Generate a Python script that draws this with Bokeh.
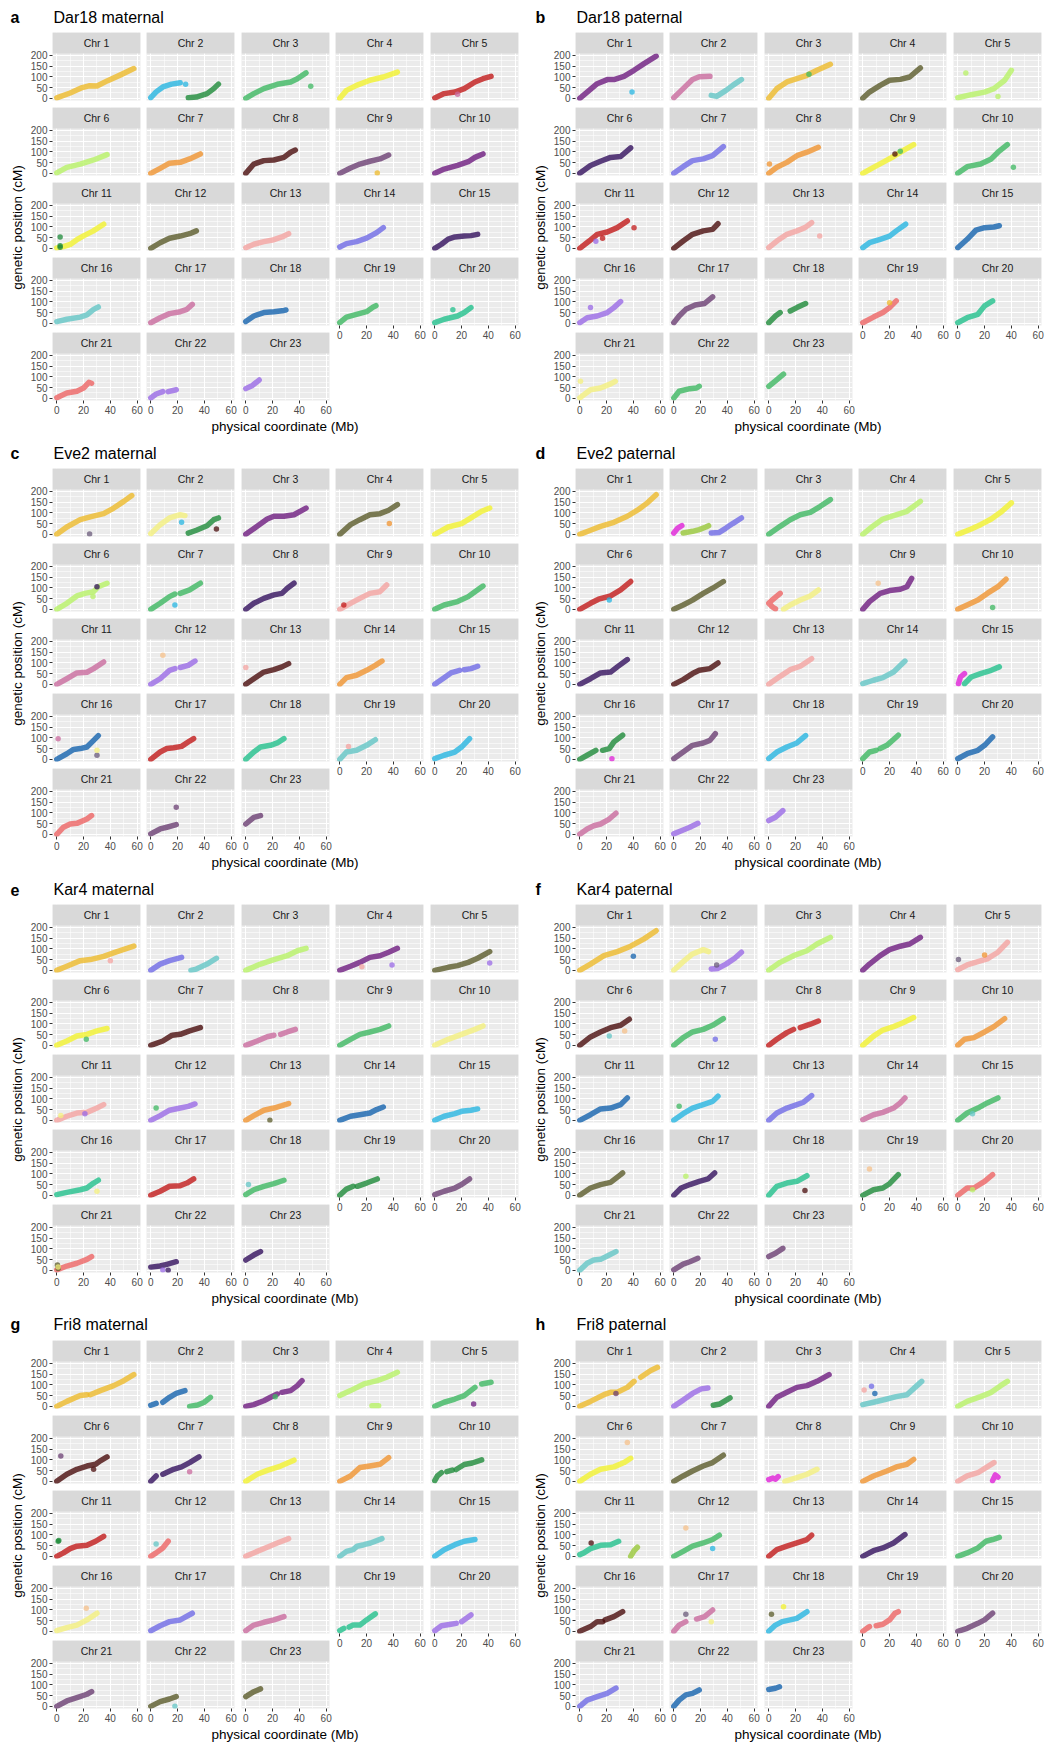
import math
from bokeh.plotting import figure
from bokeh.layouts import row, column
from bokeh.models import Range1d, Grid, FixedTicker, LinearAxis, BoxAnnotation, Label
from bokeh.embed import file_html
from bokeh.resources import INLINE

# ---------------- colours ----------------
COLORS = {
    "gold": "#EDBA2A", "cyan": "#27B5E1", "green": "#3DB861", "dkgreen": "#1E8B3A",
    "yellow": "#F2F22E", "red": "#C21A1A", "ltgreen": "#B8F266", "orange": "#F0932F",
    "maroon": "#4A0C0C", "plum": "#6B3F73", "purple": "#6E1C80", "indigo": "#33105E",
    "olive": "#5B5B2A", "salmon": "#F4A3A0", "slate": "#6F6AE6", "teal": "#63C6C6",
    "mauve": "#C96A9E", "blue": "#1463AE", "seagreen": "#22C08C", "coral": "#EE6464",
    "lavender": "#9A6AE6", "paleyel": "#F4F07E", "magenta": "#E020D8", "ygreen": "#98C83A",
    "grey": "#6A5A7A", "peach": "#F5C08A",
}

# ---------------- data: (chromosome, colour, physical Mb, genetic cM) ----------------
A_SEG = [
    (1, "gold", [0, 10, 19, 24, 30, 38, 48, 57.5], [2, 25, 50, 58, 57, 82, 110, 138]),
    (2, "cyan", [0, 4, 9, 15.5, 22], [3, 30, 53, 66, 72]),
    (2, "dkgreen", [28, 34, 42, 47, 50.5], [3, 6, 22, 45, 66]),
    (3, "green", [0, 6, 13.5, 23.5, 33.5, 38.5, 45], [0, 22, 45, 65, 76, 91, 118]),
    (4, "yellow", [0, 5, 12.5, 22.5, 32.5, 43], [0, 37, 60, 84, 99, 122]),
    (5, "red", [0, 7, 15, 22, 30, 36, 42], [2, 22, 29, 45, 76, 91, 102]),
    (6, "ltgreen", [0, 7.5, 17.5, 27.5, 37.5], [2, 28, 43, 62, 87]),
    (7, "orange", [0, 7, 14, 22, 29, 37], [0, 23, 47, 51, 67, 90]),
    (8, "maroon", [0, 6, 13.5, 21, 28.5, 33.5, 37], [0, 43, 59, 62, 74, 98, 108]),
    (9, "plum", [0, 8, 15, 22.5, 30, 36.5], [0, 25, 43, 56, 67, 85]),
    (10, "purple", [0, 7, 17, 25, 30, 36], [0, 20, 37, 54, 74, 90]),
    (11, "yellow", [0, 5, 10, 15, 20, 27, 35], [2, 8, 18, 40, 58, 80, 112]),
    (12, "olive", [0, 7, 14, 22, 29, 34], [0, 26, 47, 57, 68, 81]),
    (13, "salmon", [0, 6, 13.5, 21, 27, 32], [3, 19, 31, 40, 53, 68]),
    (14, "slate", [0, 5, 12.5, 20, 27.5, 32.5], [6, 22, 31, 47, 73, 96]),
    (15, "indigo", [0, 5, 10, 15, 22, 27, 32], [0, 19, 43, 53, 57, 59, 65]),
    (16, "teal", [0, 7.5, 17.5, 22.5, 27.5, 31], [8, 19, 29, 39, 65, 76]),
    (17, "mauve", [0, 7, 14, 22, 27, 31], [3, 26, 45, 54, 65, 88]),
    (18, "blue", [0, 6, 13.5, 21, 28.5, 30], [8, 34, 50, 54, 60, 62]),
    (19, "green", [0, 5, 12.5, 20, 25, 27], [3, 29, 42, 54, 76, 82]),
    (20, "seagreen", [0, 7, 17, 22, 27], [3, 19, 34, 50, 73]),
    (21, "coral", [0, 7.5, 15, 20, 24, 26], [3, 25, 33, 48, 74, 70]),
    (22, "lavender", [0, 4, 9], [2, 20, 31]),
    (22, "lavender", [13, 19], [31, 40]),
    (23, "lavender", [0, 5, 10], [45, 60, 85]),
]
A_OUT = [(2, "cyan", 26, 65), (3, "green", 48.5, 56), (5, "mauve", 17, 19), (9, "gold", 28, 2),
         (11, "dkgreen", 2.5, 53), (11, "dkgreen", 2.5, 5), (11, "dkgreen", 2.5, 12),
         (20, "seagreen", 13.5, 63)]

B_SEG = [
    (1, "purple", [0, 5.5, 13, 20.5, 25.5, 33, 40.5, 48, 57], [0, 29, 68, 87, 87, 102, 130, 161, 196]),
    (2, "mauve", [0, 7, 14, 19, 27], [3, 45, 87, 100, 102]),
    (2, "teal", [28, 32, 39, 44, 50.5], [14, 9, 37, 60, 87]),
    (3, "gold", [0, 6, 13.5, 21, 28.5, 36, 46], [0, 45, 76, 91, 107, 130, 158]),
    (4, "olive", [0, 5, 13, 20, 28, 35, 43], [0, 29, 60, 84, 88, 99, 141]),
    (5, "ltgreen", [0, 10, 20, 27, 35, 40], [3, 17, 29, 45, 84, 130]),
    (6, "indigo", [0, 8, 15.5, 23, 30.5, 38], [0, 36, 56, 74, 78, 118]),
    (7, "slate", [0, 7, 14, 22, 29, 37], [0, 31, 59, 67, 82, 124]),
    (8, "orange", [0, 6, 13.5, 21, 28.5, 37], [0, 28, 51, 82, 98, 121]),
    (9, "yellow", [0, 8, 15, 23, 30, 38], [0, 28, 51, 78, 105, 133]),
    (10, "green", [0, 7, 17, 25, 30, 37], [0, 31, 43, 67, 98, 133]),
    (11, "red", [0, 7, 13, 20.5, 28, 35.5], [0, 34, 65, 76, 96, 127]),
    (12, "maroon", [0, 7, 14, 22, 29, 33], [0, 34, 65, 81, 88, 114]),
    (13, "salmon", [0, 6, 13.5, 21, 27, 32], [3, 34, 65, 81, 96, 119]),
    (14, "cyan", [0, 5, 13, 20, 25, 32], [3, 26, 42, 57, 81, 112]),
    (15, "blue", [0, 7, 13.5, 20, 27, 31], [3, 42, 84, 96, 99, 105]),
    (16, "lavender", [0, 5.5, 13, 20.5, 25.5, 30.5], [3, 26, 34, 50, 73, 101]),
    (17, "plum", [0, 4, 9, 16, 23, 29], [3, 34, 65, 85, 92, 123]),
    (18, "dkgreen", [0, 5, 8.5], [3, 34, 50]),
    (18, "dkgreen", [16, 21, 27.5], [57, 73, 92]),
    (19, "coral", [0, 8, 15, 20, 25], [3, 29, 50, 73, 104]),
    (20, "seagreen", [0, 7, 15, 20, 26], [3, 26, 42, 81, 104]),
    (21, "paleyel", [0, 8, 15.5, 23, 26.5], [2, 40, 48, 67, 79]),
    (22, "green", [0, 4, 12, 17, 19], [2, 33, 45, 48, 56]),
    (23, "green", [0, 5, 11], [56, 81, 112]),
]
B_OUT = [(1, "cyan", 39, 29), (3, "green", 30, 112), (5, "ltgreen", 6, 118), (5, "ltgreen", 30, 9),
         (8, "orange", 0.5, 43), (9, "maroon", 24, 90), (9, "green", 28, 102), (10, "green", 41.5, 28),
         (11, "red", 40.5, 96), (11, "lavender", 12, 33), (11, "red", 17, 47), (13, "salmon", 38, 57),
         (16, "lavender", 8, 73), (19, "gold", 20, 96), (21, "paleyel", 0.5, 79)]

C_SEG = [
    (1, "gold", [0, 7.5, 17.5, 25, 35, 42.5, 50, 56], [0, 34, 68, 81, 96, 122, 153, 180]),
    (2, "paleyel", [0, 7, 14, 22, 25.5], [3, 45, 76, 91, 87]),
    (2, "dkgreen", [28, 34, 42, 47, 50.5], [6, 19, 40, 68, 76]),
    (3, "purple", [0, 8.5, 16, 21, 28.5, 36, 45], [0, 37, 71, 84, 84, 91, 122]),
    (4, "olive", [0, 8, 15, 22.5, 30, 36.5, 43], [0, 45, 68, 91, 96, 112, 138]),
    (5, "yellow", [0, 10, 20, 27, 35, 41], [0, 34, 50, 76, 107, 122]),
    (6, "ltgreen", [0, 7.5, 15, 21, 27.5, 31, 37.5], [0, 28, 62, 74, 82, 105, 121]),
    (7, "green", [0, 7, 14, 18], [0, 28, 59, 71]),
    (7, "green", [22, 29, 37], [74, 90, 121]),
    (8, "indigo", [0, 6, 13.5, 21, 27, 31, 36], [0, 28, 51, 67, 74, 98, 121]),
    (9, "salmon", [0, 8, 15, 22.5, 30, 35], [0, 28, 51, 74, 82, 113]),
    (10, "green", [0, 7, 17, 25, 30, 36], [0, 20, 36, 59, 82, 108]),
    (11, "mauve", [0, 7.5, 15, 22.5, 27.5, 35], [0, 26, 53, 56, 73, 104]),
    (12, "lavender", [0, 7, 14, 18], [0, 26, 65, 73]),
    (12, "lavender", [22, 28, 33], [78, 88, 108]),
    (13, "maroon", [0, 6, 13.5, 21, 27, 32], [0, 26, 57, 68, 81, 96]),
    (14, "orange", [0, 5, 12.5, 20, 26.5, 31.5], [0, 31, 42, 65, 88, 108]),
    (15, "slate", [0, 7, 12, 18.5], [0, 31, 53, 65]),
    (15, "slate", [22, 27, 32], [68, 73, 84]),
    (16, "blue", [0, 7.5, 12.5, 17.5, 22.5, 27.5, 31], [0, 26, 46, 50, 57, 88, 110]),
    (17, "red", [0, 7, 12, 17, 23, 29, 32], [0, 34, 50, 54, 60, 85, 96]),
    (18, "seagreen", [0, 6, 11, 18.5, 23.5, 28.5], [0, 34, 57, 65, 76, 96]),
    (19, "teal", [0, 5, 12.5, 20, 26.5], [0, 34, 42, 65, 91]),
    (20, "cyan", [0, 7, 15, 20, 26], [3, 19, 34, 57, 96]),
    (21, "coral", [0, 5, 10, 15, 22.5, 26], [0, 33, 48, 51, 71, 87]),
    (22, "plum", [0, 7, 12, 19], [2, 25, 33, 45]),
    (23, "plum", [0, 6, 11], [48, 79, 87]),
]
C_OUT = [(1, "grey", 24.5, 2), (2, "cyan", 23, 56), (2, "maroon", 49, 25), (4, "orange", 37, 50),
         (6, "indigo", 30, 105), (6, "ltgreen", 27, 59), (7, "cyan", 18, 20), (9, "red", 3, 20),
         (12, "peach", 9, 135), (13, "salmon", 0, 78), (16, "mauve", 1, 96), (16, "grey", 30, 19),
         (16, "paleyel", 30, 42), (19, "salmon", 6.5, 60), (22, "plum", 19, 126)]

D_SEG = [
    (1, "gold", [0, 8, 15.5, 25.5, 35.5, 43, 50.5, 57], [0, 19, 37, 56, 84, 112, 146, 184]),
    (2, "magenta", [0, 3, 6], [6, 29, 40]),
    (2, "ygreen", [7, 14, 19, 24, 26], [6, 14, 22, 34, 40]),
    (2, "slate", [28, 34, 39, 44, 50.5], [6, 9, 29, 50, 76]),
    (3, "green", [0, 8.5, 16, 23.5, 31, 38.5, 46], [0, 37, 68, 91, 102, 130, 161]),
    (4, "ltgreen", [0, 8, 15, 23, 33, 43], [0, 40, 71, 87, 107, 153]),
    (5, "yellow", [0, 10, 17, 25, 32, 40], [0, 25, 45, 71, 102, 146]),
    (6, "red", [0, 8, 14, 23, 30.5, 38], [0, 28, 47, 62, 90, 129]),
    (7, "olive", [0, 7, 14, 22, 29, 37], [0, 20, 43, 74, 98, 129]),
    (8, "coral", [8.5, 2, 0, 3, 5], [74, 40, 28, 10, 2]),
    (8, "paleyel", [11, 16, 23.5, 31, 37], [0, 20, 43, 62, 90]),
    (9, "purple", [0, 5, 13, 20, 28, 33, 36.5], [0, 36, 74, 87, 93, 105, 144]),
    (10, "orange", [0, 7, 15, 22, 30, 36], [0, 20, 43, 74, 105, 140]),
    (11, "indigo", [0, 8, 15.5, 23, 28, 35.5], [0, 26, 53, 57, 81, 115]),
    (12, "maroon", [0, 7, 14, 19, 27, 33], [0, 22, 50, 65, 73, 99]),
    (13, "salmon", [0, 8.5, 16, 23.5, 32], [0, 37, 68, 84, 119]),
    (14, "teal", [0, 8, 15, 23, 31.5], [3, 19, 31, 57, 108]),
    (15, "magenta", [0.5, 2, 5], [3, 34, 50]),
    (15, "seagreen", [5, 10, 17, 25, 31], [3, 34, 50, 65, 81]),
    (16, "dkgreen", [0, 5.5, 12], [0, 19, 42]),
    (16, "dkgreen", [17, 22, 25.5, 32], [42, 50, 81, 112]),
    (17, "plum", [0, 7, 14, 22, 27, 31], [3, 34, 65, 76, 88, 119]),
    (18, "cyan", [0, 6, 13.5, 21, 27.5], [3, 34, 57, 76, 110]),
    (19, "green", [0, 5, 10], [3, 34, 42]),
    (19, "green", [13, 18, 26.5], [50, 65, 112]),
    (20, "blue", [0, 7, 15, 20, 26], [3, 26, 42, 65, 104]),
    (21, "mauve", [0, 5.5, 10.5, 15.5, 22, 27], [0, 25, 40, 48, 71, 98]),
    (22, "lavender", [0, 7, 12, 18], [2, 20, 33, 51]),
    (23, "lavender", [0, 5, 10.5], [64, 79, 110]),
]
D_OUT = [(6, "cyan", 22, 43), (9, "peach", 11.5, 121), (10, "green", 26, 9), (16, "magenta", 24, 3)]

E_SEG = [
    (1, "gold", [0, 7.5, 17.5, 25, 35, 45, 57.5], [0, 19, 45, 50, 65, 87, 112]),
    (2, "slate", [0, 7, 14, 23], [0, 29, 45, 60]),
    (2, "teal", [30, 34, 42, 49], [0, 6, 29, 56]),
    (3, "ltgreen", [0, 11, 21, 31, 38.5, 45], [0, 29, 50, 68, 91, 102]),
    (4, "purple", [0, 8, 15, 22.5, 30, 36.5, 43], [0, 19, 37, 60, 68, 84, 102]),
    (5, "olive", [0, 10, 17, 25, 32, 41], [0, 14, 22, 37, 56, 87]),
    (6, "yellow", [0, 7.5, 15, 22.5, 30, 37.5], [0, 20, 43, 51, 67, 78]),
    (7, "maroon", [0, 9, 16, 22, 29, 37], [0, 20, 47, 51, 67, 82]),
    (8, "mauve", [0, 8.5, 16, 21], [0, 20, 40, 47]),
    (8, "mauve", [26, 31, 37], [51, 62, 74]),
    (9, "green", [0, 8, 15, 22.5, 30, 36.5], [0, 28, 51, 62, 74, 90]),
    (10, "paleyel", [0, 10, 20, 30, 36], [0, 28, 51, 74, 90]),
    (11, "salmon", [0, 7.5, 15, 22.5, 30, 35], [0, 19, 34, 37, 57, 73]),
    (12, "lavender", [0, 7, 14, 22, 28, 33], [0, 22, 47, 57, 65, 76]),
    (13, "orange", [0, 6, 13.5, 21, 27, 32], [0, 22, 47, 57, 68, 78]),
    (14, "blue", [0, 8, 15, 22.5, 27.5, 32.5], [0, 19, 26, 34, 50, 62]),
    (15, "cyan", [0, 7, 15, 20, 27, 32], [0, 19, 31, 42, 47, 53]),
    (16, "seagreen", [0, 7.5, 17.5, 22.5, 27.5, 31], [3, 14, 26, 34, 57, 70]),
    (17, "red", [0, 7, 14, 22, 27, 32], [0, 19, 42, 45, 57, 76]),
    (18, "green", [0, 6, 13.5, 21, 28.5], [3, 26, 42, 54, 70]),
    (19, "dkgreen", [0, 5, 10], [0, 29, 42]),
    (19, "dkgreen", [13, 20, 28], [42, 57, 76]),
    (20, "plum", [0, 7, 15, 20, 26], [3, 19, 34, 50, 76]),
    (21, "coral", [0, 7.5, 15, 22.5, 26], [2, 20, 33, 51, 64]),
    (22, "indigo", [0, 7, 12, 19], [15, 20, 28, 40]),
    (23, "indigo", [0, 6, 11], [48, 71, 87]),
]
E_OUT = [(1, "salmon", 40, 45), (4, "salmon", 16.5, 17), (4, "lavender", 39, 25), (5, "lavender", 41, 34),
         (6, "green", 22, 28), (11, "lavender", 21, 31), (11, "paleyel", 3, 22), (12, "green", 4, 57),
         (13, "olive", 18, 0), (16, "paleyel", 30, 19), (18, "teal", 2, 50), (21, "olive", 0.5, 25),
         (21, "olive", 1, 9), (21, "paleyel", 1, 15), (22, "lavender", 9, 2), (22, "indigo", 13, 0)]

F_SEG = [
    (1, "gold", [0, 8, 18, 28, 38, 48, 57], [0, 29, 68, 87, 112, 146, 184]),
    (2, "paleyel", [0, 7, 14, 22, 26], [0, 40, 76, 96, 87]),
    (2, "lavender", [28, 33, 39, 45.5, 50.5], [6, 9, 29, 56, 84]),
    (3, "ltgreen", [0, 8.5, 18.5, 28.5, 36, 46], [0, 37, 68, 91, 122, 153]),
    (4, "purple", [0, 5, 13, 20, 28, 35, 43], [0, 29, 68, 96, 112, 122, 153]),
    (5, "salmon", [0, 7, 15, 22, 30, 37], [3, 25, 40, 53, 84, 130]),
    (6, "maroon", [0, 8, 15.5, 23, 30.5, 37], [0, 39, 62, 82, 93, 121]),
    (7, "green", [0, 7, 14, 22, 29, 37], [0, 36, 62, 74, 93, 124]),
    (8, "red", [0, 6, 13.5, 18.5], [0, 28, 59, 74]),
    (8, "red", [23.5, 31, 37], [82, 98, 113]),
    (9, "yellow", [0, 8, 15, 23, 30, 38], [0, 43, 71, 87, 105, 129]),
    (10, "orange", [0, 5, 12, 20, 27, 35], [0, 28, 36, 62, 87, 124]),
    (11, "blue", [0, 8, 15.5, 23, 30.5, 35.5], [0, 26, 53, 57, 73, 104]),
    (12, "cyan", [0, 7, 14, 22, 29, 33], [0, 31, 57, 73, 88, 112]),
    (13, "slate", [0, 6, 13.5, 21, 26, 32], [0, 34, 57, 73, 84, 115]),
    (14, "mauve", [0, 8, 15, 23, 28, 31.5], [3, 26, 37, 57, 81, 104]),
    (15, "green", [0, 7, 15, 22, 30], [0, 34, 57, 81, 104]),
    (16, "olive", [0, 8, 15.5, 23, 30.5, 32], [0, 34, 50, 60, 96, 104]),
    (17, "indigo", [0, 5.5, 12, 19, 25.5, 30.5], [0, 34, 50, 65, 76, 104]),
    (18, "seagreen", [0, 6, 13.5, 21, 28.5], [0, 42, 57, 65, 91]),
    (19, "dkgreen", [0, 8, 15, 20, 26.5], [0, 26, 34, 54, 96]),
    (20, "coral", [0, 7, 12, 20, 26], [0, 34, 34, 65, 96]),
    (21, "teal", [0, 5.5, 10.5, 15.5, 22, 27], [0, 33, 48, 51, 71, 87]),
    (22, "plum", [0, 7, 12, 18], [2, 29, 40, 56]),
    (23, "plum", [0, 5, 10.5], [64, 79, 102]),
]
F_OUT = [(1, "blue", 40, 65), (2, "grey", 32, 25), (5, "grey", 0.5, 50), (5, "orange", 20, 71),
         (6, "teal", 22, 43), (6, "peach", 33.5, 67), (7, "slate", 31, 28), (12, "green", 4, 65),
         (15, "teal", 11, 31), (17, "ltgreen", 9, 88), (18, "maroon", 27, 23), (19, "peach", 5, 122),
         (20, "ltgreen", 11, 26)]

G_SEG = [
    (1, "gold", [0, 7.5, 17.5, 22.5], [0, 23, 50, 54]),
    (1, "gold", [25, 32.5, 42.5, 50, 57.5], [54, 73, 96, 119, 147]),
    (2, "blue", [0, 4], [5, 14]),
    (2, "blue", [9, 14, 19, 25.5], [19, 42, 60, 73]),
    (2, "green", [29, 35, 40, 44.5], [0, 6, 19, 42]),
    (3, "purple", [0, 6, 13.5, 18.5, 23.5], [0, 8, 26, 42, 57]),
    (3, "purple", [27, 33.5, 38.5, 42], [65, 73, 96, 119]),
    (4, "ltgreen", [0, 8, 18, 28, 35, 43], [50, 73, 104, 119, 135, 158]),
    (4, "ltgreen", [24, 29], [3, 3]),
    (5, "green", [0, 7, 15, 22, 30], [0, 19, 34, 50, 88]),
    (5, "green", [35, 42], [104, 112]),
    (6, "maroon", [0, 7.5, 15, 22.5, 29, 32.5, 37.5], [0, 33, 56, 71, 79, 95, 113]),
    (7, "indigo", [0, 4], [0, 25]),
    (7, "indigo", [9, 17, 23, 29, 36], [33, 56, 67, 87, 113]),
    (8, "yellow", [0, 8.5, 16, 26, 36], [0, 33, 51, 71, 98]),
    (9, "orange", [0, 8, 15, 22.5, 30, 36.5], [0, 25, 64, 71, 79, 110]),
    (10, "dkgreen", [0, 2, 5], [3, 25, 40]),
    (10, "dkgreen", [9, 13], [45, 52]),
    (10, "dkgreen", [16, 22, 28, 35], [55, 78, 85, 100]),
    (11, "red", [0, 5, 10, 15, 22.5, 29, 35], [0, 16, 36, 47, 51, 70, 93]),
    (12, "coral", [0, 4, 9, 13], [0, 16, 39, 70]),
    (13, "salmon", [0, 8.5, 16, 23.5, 32], [0, 23, 42, 62, 82]),
    (14, "teal", [0, 5, 10, 13, 18, 23, 31.5], [0, 23, 31, 47, 54, 62, 82]),
    (15, "cyan", [0, 7, 15, 22, 30], [0, 31, 54, 70, 78]),
    (16, "paleyel", [0, 7.5, 15, 22.5, 30], [3, 17, 29, 53, 84]),
    (17, "slate", [0, 7, 14, 22, 31], [3, 26, 45, 53, 84]),
    (18, "mauve", [0, 6, 13.5, 21, 28.5], [3, 29, 42, 53, 68]),
    (19, "seagreen", [0, 3], [3, 14]),
    (19, "seagreen", [7, 10, 15, 20, 26.5], [20, 29, 29, 53, 81]),
    (20, "lavender", [0, 5, 12, 16], [3, 26, 33, 37]),
    (20, "lavender", [20, 27], [45, 76]),
    (21, "plum", [0, 7.5, 15, 22.5, 26], [0, 25, 40, 56, 68]),
    (22, "olive", [0, 7, 14, 19], [0, 22, 34, 45]),
    (23, "olive", [0, 6, 11], [45, 68, 81]),
]
G_OUT = [(3, "green", 22, 45), (5, "purple", 29, 11), (6, "plum", 3, 118), (6, "maroon", 27.5, 56),
         (7, "mauve", 29, 45), (11, "dkgreen", 1, 70), (11, "dkgreen", 1.5, 74), (12, "teal", 4, 57),
         (16, "peach", 22, 107), (22, "teal", 18, 0)]

H_SEG = [
    (1, "gold", [0, 8, 18, 23, 28, 35.5, 40.5], [0, 23, 54, 65, 65, 88, 116]),
    (1, "gold", [45.5, 53, 58], [135, 166, 181]),
    (2, "lavender", [0, 7, 14, 20.5, 25.5], [0, 29, 60, 81, 85]),
    (2, "dkgreen", [29.5, 34.5, 42], [5, 11, 39]),
    (3, "purple", [0, 6, 13.5, 21, 28.5, 36, 45], [0, 42, 65, 88, 96, 116, 147]),
    (4, "teal", [0, 8, 18, 25, 33, 39, 44], [8, 19, 34, 45, 54, 88, 116]),
    (5, "ltgreen", [0, 7, 17, 25, 32, 37], [0, 23, 45, 65, 96, 116]),
    (6, "yellow", [0, 8, 15.5, 25.5, 33, 38], [0, 33, 56, 67, 87, 107]),
    (7, "olive", [0, 7, 14, 22, 29, 37], [0, 25, 48, 71, 87, 121]),
    (8, "magenta", [0, 3, 5, 7], [8, 15, 10, 22]),
    (8, "paleyel", [12, 21, 28.5, 36], [0, 17, 33, 56]),
    (9, "orange", [0, 8, 18, 25, 33, 38], [0, 25, 48, 67, 79, 102]),
    (10, "salmon", [0, 7, 15, 22, 27], [0, 25, 40, 67, 87]),
    (10, "magenta", [26, 28, 30], [3, 30, 20]),
    (11, "seagreen", [0, 3, 8, 15.5, 23, 29], [8, 16, 36, 51, 54, 70]),
    (11, "ygreen", [38, 40.5, 43], [0, 26, 42]),
    (12, "green", [0, 7, 14, 22, 29, 34], [0, 23, 47, 62, 78, 98]),
    (13, "red", [0, 6, 13.5, 21, 28.5, 32], [0, 31, 47, 62, 78, 98]),
    (14, "indigo", [0, 8, 15, 23, 31.5], [0, 26, 39, 62, 101]),
    (15, "green", [0, 7, 15, 21, 26, 31], [0, 16, 39, 70, 78, 88]),
    (16, "maroon", [0, 8, 13, 17], [0, 22, 45, 45]),
    (16, "maroon", [19, 25.5, 32], [53, 68, 91]),
    (17, "mauve", [0, 4, 9], [0, 29, 45]),
    (17, "mauve", [17, 23, 29], [57, 68, 99]),
    (18, "cyan", [0, 5, 10, 16, 21, 28.5], [0, 29, 45, 53, 60, 91]),
    (19, "coral", [0, 3, 5], [0, 14, 22]),
    (19, "coral", [10, 15, 20, 24, 26.5], [26, 33, 53, 84, 91]),
    (20, "plum", [0, 7, 15, 20, 26], [0, 14, 37, 53, 84]),
    (21, "slate", [0, 5.5, 13, 20.5, 27], [0, 29, 45, 60, 84]),
    (22, "blue", [0, 4, 9, 14, 19], [0, 29, 53, 60, 76]),
    (23, "blue", [0, 5, 8], [78, 84, 91]),
]
H_OUT = [(1, "plum", 27, 60), (4, "salmon", 1, 76), (4, "slate", 6.5, 93), (4, "blue", 9, 60),
         (6, "peach", 35.5, 180), (11, "maroon", 8.5, 62), (12, "peach", 9, 132), (12, "cyan", 29, 36),
         (17, "grey", 9, 79), (17, "paleyel", 28, 45), (18, "olive", 2, 79), (18, "yellow", 11, 114)]

PANELS = [
    ("a", "Dar18 maternal", A_SEG, A_OUT), ("b", "Dar18 paternal", B_SEG, B_OUT),
    ("c", "Eve2 maternal", C_SEG, C_OUT), ("d", "Eve2 paternal", D_SEG, D_OUT),
    ("e", "Kar4 maternal", E_SEG, E_OUT), ("f", "Kar4 paternal", F_SEG, F_OUT),
    ("g", "Fri8 maternal", G_SEG, G_OUT), ("h", "Fri8 paternal", H_SEG, H_OUT),
]

X_TICKS = [0, 20, 40, 60]
X_MINOR = [10, 30, 50]
Y_TICKS = [0, 50, 100, 150, 200]
Y_MINOR = [25, 75, 125, 175]
N_CHR = 23

# ---------------- styling / geometry ----------------
FONT = "Liberation Sans"
X_LIM = (-3.2, 62.5)
Y_LIM = (-10.0, 208.0)
STRIP_PX = 21
PLOT_PX = 47
FRAME_W = 88
COL_W = [94, 95, 94, 95, 94]
LEFT_PAD = 26
GRID_H = 4 * 75 + 86
Y_PER_PX = (Y_LIM[1] - Y_LIM[0]) / PLOT_PX
Y_TOP = Y_LIM[1] + STRIP_PX * Y_PER_PX


def blank(w, h):
    p = figure(width=w, height=h, x_range=Range1d(0, w), y_range=Range1d(h, 0),
               output_backend="svg", toolbar_location=None, tools="", title=None,
               x_axis_location=None, y_axis_location=None, min_border=0)
    p.center = []
    p.outline_line_color = None
    p.background_fill_color = "white"
    p.border_fill_color = "white"
    return p


def facet(n, segs, outs):
    r, c = (n - 1) // 5, (n - 1) % 5
    xaxis = n + 5 > N_CHR
    bottom = 18 if xaxis else 7
    left = LEFT_PAD if c == 0 else 0
    w = COL_W[c] + left
    h = STRIP_PX + PLOT_PX + bottom
    p = figure(width=w, height=h, x_range=Range1d(*X_LIM), y_range=Range1d(Y_LIM[0], Y_TOP),
               output_backend="svg", toolbar_location=None, tools="", title=None,
               x_axis_location=None, y_axis_location=None,
               min_border_left=left, min_border_right=COL_W[c] - FRAME_W,
               min_border_top=0, min_border_bottom=bottom)
    p.center = []
    p.background_fill_color = "#EBEBEB"
    p.border_fill_color = "white"
    p.outline_line_color = None
    for dim, tk, mn in ((0, X_TICKS, X_MINOR), (1, Y_TICKS, Y_MINOR)):
        g = Grid(dimension=dim, ticker=FixedTicker(ticks=tk, minor_ticks=mn),
                 grid_line_color="white", grid_line_width=1.1,
                 minor_grid_line_color="white", minor_grid_line_width=0.55)
        p.add_layout(g)
    for (ch, col, xs, ys) in segs:
        if ch == n:
            p.line(xs, ys, line_color=COLORS[col], line_width=5.5, line_alpha=0.8,
                   line_cap="round", line_join="round")
    for (ch, col, x, y) in outs:
        if ch == n:
            p.scatter([x], [y], size=5.5, fill_color=COLORS[col], line_color=None, fill_alpha=0.75)
    p.add_layout(BoxAnnotation(bottom=Y_LIM[1], fill_color="#D9D9D9", fill_alpha=1.0,
                               line_color=None))
    p.add_layout(Label(x=(X_LIM[0] + X_LIM[1]) / 2, y=(Y_LIM[1] + Y_TOP) / 2, text="Chr %d" % n,
                       text_align="center", text_baseline="middle", text_font=FONT,
                       text_font_size="10.5px", text_color="#1A1A1A"))
    axis_kw = dict(axis_line_color=None, major_tick_line_color="#333333", major_tick_out=3,
                   major_tick_in=0, minor_tick_line_color=None, major_label_standoff=2,
                   major_label_text_font=FONT, major_label_text_font_size="10px",
                   major_label_text_color="#4D4D4D")
    if c == 0:
        p.add_layout(LinearAxis(ticker=FixedTicker(ticks=Y_TICKS), **axis_kw), "left")
    if xaxis:
        p.add_layout(LinearAxis(ticker=FixedTicker(ticks=X_TICKS), **axis_kw), "below")
    return p


def panel(letter, title, segs, outs, right, header_h, total_h):
    lw = 22 if right else 26
    header = blank(527, header_h)
    header.add_layout(Label(x=8 if right else 10, y=17, text=letter, text_font=FONT,
                            text_font_style="bold", text_font_size="16px",
                            text_baseline="middle", text_color="black"))
    header.add_layout(Label(x=lw + LEFT_PAD + 1, y=17, text=title, text_font=FONT,
                            text_font_size="16px", text_baseline="middle", text_color="black"))
    cols = []
    for c in range(5):
        figs = [facet(r * 5 + c + 1, segs, outs) for r in range(5) if r * 5 + c + 1 <= N_CHR]
        cols.append(column(*figs))
    yt = blank(lw, GRID_H)
    yt.add_layout(Label(x=lw - 9.5, y=195, text="genetic position (cM)", angle=math.pi / 2,
                        text_align="center", text_baseline="middle", text_font=FONT,
                        text_font_size="13.5px", text_color="black"))
    mid = row(yt, *cols)
    xh = total_h - header_h - GRID_H
    xt = blank(527, xh)
    xt.add_layout(Label(x=lw + LEFT_PAD + 232.5, y=8, text="physical coordinate (Mb)",
                        text_align="center", text_baseline="middle", text_font=FONT,
                        text_font_size="13.5px", text_color="black"))
    return column(header, mid, xt)


HEADER_H = [32, 32, 32, 33]
TOTAL_H = [436, 436, 435, 435]
rows = []
for i in range(4):
    L = PANELS[2 * i]
    R = PANELS[2 * i + 1]
    rows.append(row(panel(L[0], L[1], L[2], L[3], False, HEADER_H[i], TOTAL_H[i]),
                    panel(R[0], R[1], R[2], R[3], True, HEADER_H[i], TOTAL_H[i])))
page = column(*rows)

open("out.html", "w").write(file_html(page, INLINE))
